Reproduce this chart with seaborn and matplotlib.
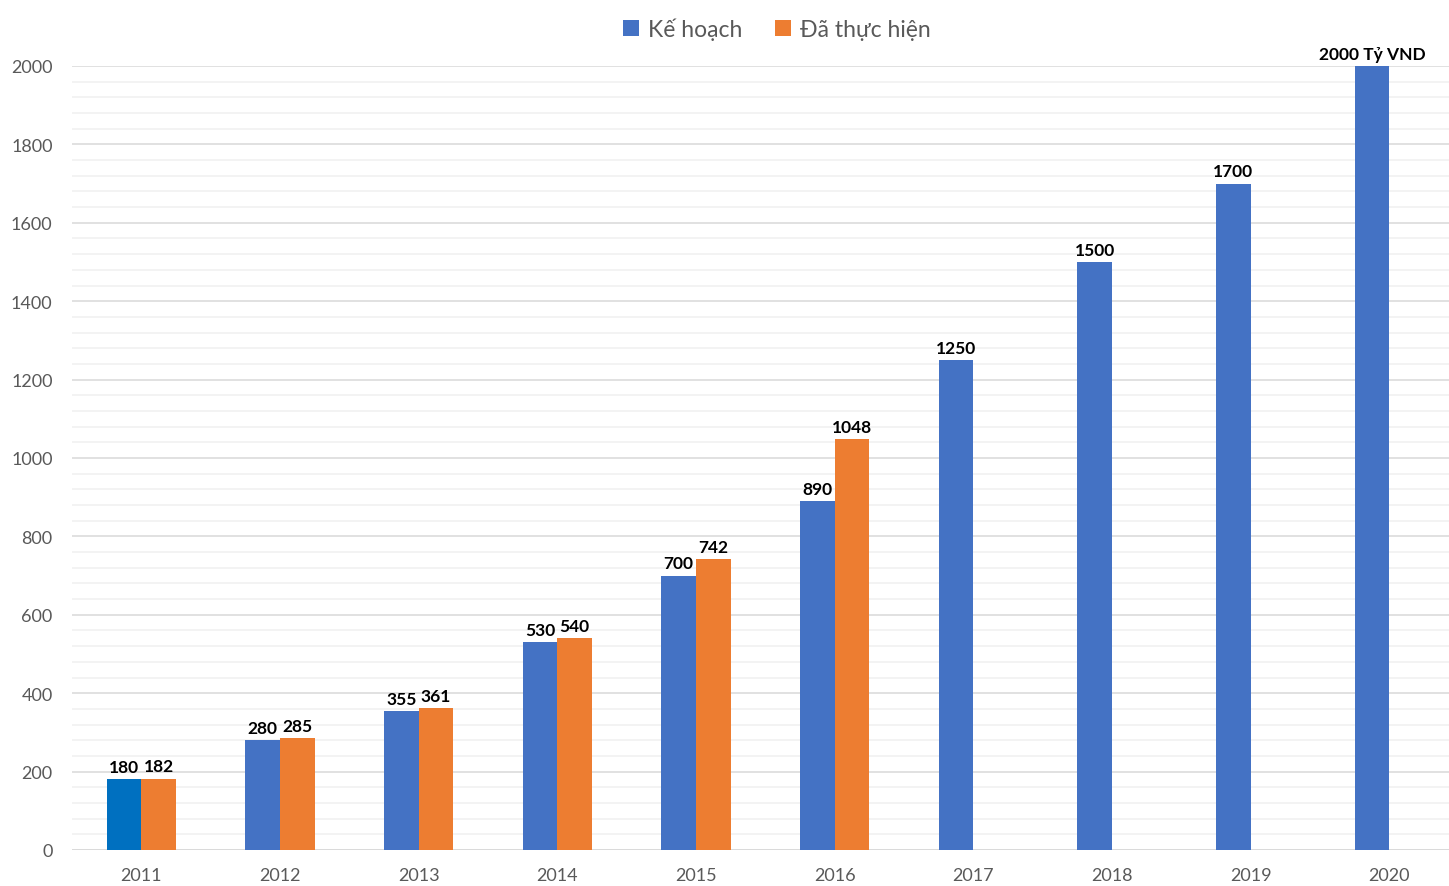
import matplotlib
matplotlib.use("Agg")
import matplotlib.pyplot as plt
from matplotlib.ticker import MultipleLocator
import seaborn as sns
import pandas as pd
import numpy as np

# data
years = ["2011", "2012", "2013", "2014", "2015", "2016", "2017", "2018", "2019", "2020"]
ke_hoach = [180, 280, 355, 530, 700, 890, 1250, 1500, 1700, 2000]
da_thuc_hien = [182, 285, 361, 540, 742, 1048, None, None, None, None]
series_names = ["Kế hoạch", "Đã thực hiện"]

df = pd.DataFrame({
    "year": years * 2,
    "value": ke_hoach + da_thuc_hien,
    "series": [series_names[0]] * len(years) + [series_names[1]] * len(years),
})
df["value"] = df["value"].astype(float)

sns.set_style("white")
plt.rcParams["font.family"] = ["Lato", "DejaVu Sans"]

fig = plt.figure(figsize=(14.49, 8.87), dpi=100)
ax = fig.add_axes([72 / 1449, 36 / 887, 1 - 72 / 1449, (851 - 67) / 887])

sns.barplot(data=df, x="year", y="value", hue="series",
            palette=["#4472C4", "#ED7D31"], width=0.5, saturation=1,
            errorbar=None, linewidth=0, ax=ax, zorder=3)

# data labels, matched to bars by colour and position
for p in ax.patches:
    h = p.get_height()
    if h is None or np.isnan(h) or h == 0:
        continue
    xc = p.get_x() + p.get_width() / 2
    i = int(round(xc))
    is_plan = xc < i
    vals = ke_hoach if is_plan else da_thuc_hien
    v = vals[i]
    if v is None:
        continue
    if is_plan and i == 0:
        p.set_facecolor("#0070C0")  # first plan bar is a different blue
    txt = f"{v} Tỷ VND" if (is_plan and i == len(years) - 1) else str(v)
    ax.annotate(txt, (xc, h), xytext=(0, 3), textcoords="offset points",
                ha="center", va="bottom", fontsize=12.5, fontweight="bold",
                color="black")

ax.set_ylim(0, 2000)
ax.set_xlim(-0.5, 9.43)
ax.yaxis.set_major_locator(MultipleLocator(200))
ax.yaxis.set_minor_locator(MultipleLocator(40))
ax.grid(axis="y", which="major", color="#d9d9d9", linewidth=1.1, zorder=0)
ax.grid(axis="y", which="minor", color="#f0f0f0", linewidth=1.1, zorder=0)
ax.set_axisbelow(True)
for s in ax.spines.values():
    s.set_visible(False)
ax.axhline(0, color="#d9d9d9", linewidth=1.2, zorder=2)

ax.set_xlabel("")
ax.set_ylabel("")
ax.tick_params(axis="both", which="both", length=0, labelsize=13,
               labelcolor="#595959")
ax.tick_params(axis="y", pad=14)
ax.tick_params(axis="x", pad=12)

leg = ax.legend(loc="center", bbox_to_anchor=(0.512, 1 + 37 / 784), ncol=2,
                frameon=False, fontsize=16.5, handlelength=0.7, handleheight=0.7,
                handletextpad=0.4, columnspacing=1.4, labelcolor="#595959")

fig.savefig("out.png", dpi=100)
